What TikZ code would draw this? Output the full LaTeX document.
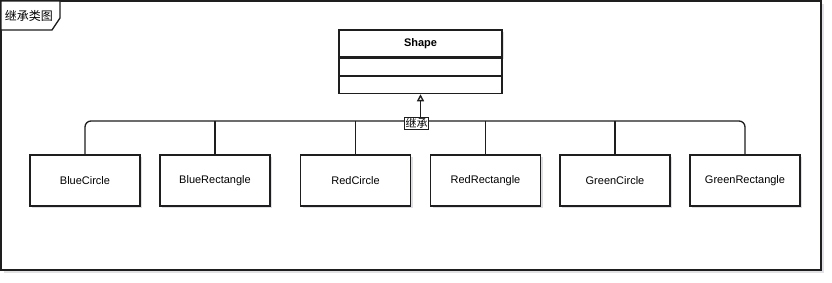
\documentclass[tikz,border=0pt]{standalone}
\usepackage{fontspec}
\setmainfont{Liberation Sans}
\newfontfamily\cjkfont{Noto Sans CJK SC}
\usetikzlibrary{arrows.meta, shadows, positioning}
\definecolor{inkline}{HTML}{1E1E1E}
\definecolor{softshade}{HTML}{9A9AA8}

\tikzset{
  classbox/.style={draw=inkline, line width=1.3pt, fill=white, minimum width=110pt, minimum height=51pt,
    font=\fontsize{11}{13}\selectfont, drop shadow={opacity=0.3, color=softshade, shadow xshift=2pt, shadow yshift=-2pt}},
  headbox/.style={draw=inkline, line width=1.3pt, fill=white, minimum width=163pt, minimum height=27pt,
    inner sep=0pt, font=\fontsize{11}{13}\selectfont\bfseries},
  slotbox/.style={draw=inkline, line width=1.3pt, fill=white, minimum width=163pt, minimum height=17pt, inner sep=0pt},
  link/.style={draw=inkline, line width=1.3pt},
  tagbox/.style={draw=inkline, line width=1pt, fill=white, inner sep=1pt, font=\cjkfont\fontsize{11}{12}\selectfont}
}

\begin{document}
\begin{tikzpicture}[x=1pt, y=-1pt]
  \useasboundingbox (0,0) rectangle (832,282);

  % Rahmen mit Reiter
  \draw[link, fill=white, drop shadow={opacity=0.3, color=softshade, shadow xshift=3pt, shadow yshift=-3pt}] (1,1) rectangle (821,270);
  \draw[link, fill=white] (1,1) -- (60,1) -- (60,18) -- (52,30) -- (1,30) -- cycle;
  \node[font=\cjkfont\fontsize{12}{14}\selectfont, inner sep=0pt] (title) at (29,16) {继承类图};

  % Oberklasse
  \node[headbox, drop shadow={opacity=0.3, color=softshade, shadow xshift=2pt, shadow yshift=-2pt}] (shapeHead) at (420.5,43.5) {Shape};
  \node[slotbox, below=0pt of shapeHead] (shapeAttr) {};
  \node[slotbox, below=0pt of shapeAttr] (shapeOps) {};

  % Unterklassen
  \foreach \name/\cx/\txt in {bc/85/BlueCircle, br/215/BlueRectangle, rc/355.5/RedCircle,
                              rr/485.5/RedRectangle, gc/615/GreenCircle, gr/745/GreenRectangle}
    \node[classbox] (\name) at (\cx,180.5) {\txt};

  % Vererbung
  \coordinate (bus) at (420.5,121);
  \draw[link, rounded corners=6pt] (bc.north) |- (bus) -| (gr.north);
  \foreach \name in {br, rc, rr, gc}
    \draw[link] (\name.north) -- (\name.north |- bus);
  \node[tagbox] (tag) at (416.5,123.5) {继承};
  \draw[link, -{Triangle[open, length=7pt, width=7pt]}] (tag.north -| shapeOps.south) -- (shapeOps.south);
\end{tikzpicture}
\end{document}
